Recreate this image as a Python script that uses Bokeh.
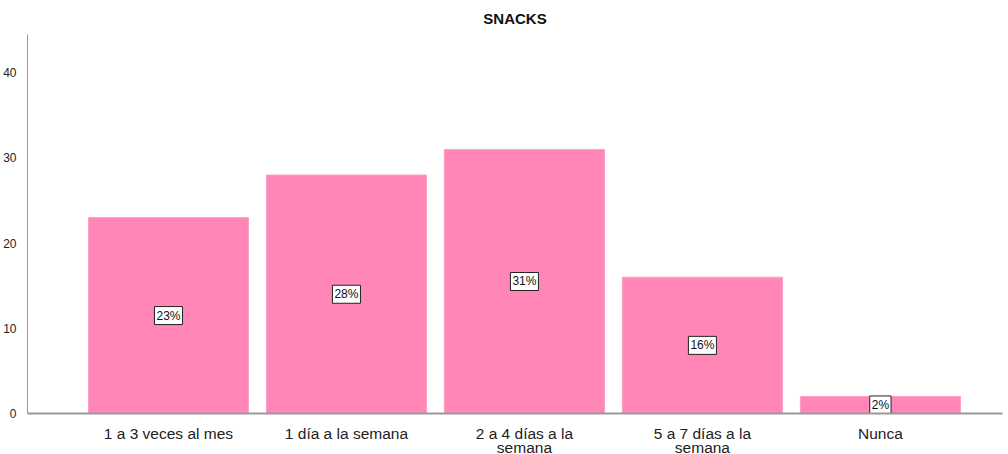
from bokeh.plotting import figure
from bokeh.models import ColumnDataSource, Range1d, FixedTicker
from bokeh.core.properties import value
from bokeh.embed import file_html
from bokeh.resources import INLINE

categories = ["1 a 3 veces al mes", "1 día a la semana", "2 a 4 días a la\nsemana",
              "5 a 7 días a la\nsemana", "Nunca"]
values = [23, 28, 31, 16, 2]
pct_labels = ["23%", "28%", "31%", "16%", "2%"]
y_ticks = [0, 10, 20, 30, 40]

xs = list(range(len(categories)))
src = ColumnDataSource(dict(x=xs, top=values, mid=[v / 2 for v in values], lab=pct_labels))

p = figure(frame_width=975, frame_height=379, output_backend="svg", toolbar_location=None,
           x_range=Range1d(-0.792, 4.686), y_range=Range1d(0, 44.5),
           min_border_left=26, min_border_right=1, min_border_top=33, min_border_bottom=10,
           title="SNACKS")
p.title.align = "center"
p.title.text_font = "Liberation Sans"
p.title.text_font_size = "15px"
p.title.text_font_style = "bold"
p.title.text_color = "#111111"
p.title.standoff = 15
p.outline_line_color = None
p.grid.visible = False

p.vbar(x="x", top="top", width=0.899, bottom=0, source=src,
       fill_color="#FF86B7", line_color="#FF9CC5", line_width=1)

p.text(x="x", y="mid", text="lab", source=src, text_align="center",
       text_baseline="middle", text_font=value("Liberation Sans"), text_font_size="12px",
       text_color="#111111", background_fill_color="white",
       border_line_color="#222222", border_line_width=1, padding=2)

p.xaxis.ticker = FixedTicker(ticks=xs)
p.xaxis.major_label_overrides = {i: c for i, c in enumerate(categories)}
p.xaxis.major_label_text_font = "Liberation Sans"
p.xaxis.major_label_text_font_size = "15.5px"
p.xaxis.major_label_text_line_height = 0.85
p.xaxis.major_label_text_color = "#222222"
p.xaxis.major_tick_line_color = None
p.xaxis.minor_tick_line_color = None
p.xaxis.axis_line_color = "#999999"
p.xaxis.axis_line_width = 2
p.xaxis.major_label_standoff = 5

p.yaxis.ticker = FixedTicker(ticks=y_ticks)
p.yaxis.major_label_text_font = "Liberation Sans"
p.yaxis.major_label_text_font_size = "12px"
p.yaxis.major_label_text_color = "#222222"
p.yaxis.major_tick_line_color = None
p.yaxis.minor_tick_line_color = None
p.yaxis.axis_line_color = "#999999"
p.yaxis.axis_line_width = 1
p.yaxis.major_label_standoff = 5

open("out.html", "w").write(file_html(p, INLINE))
